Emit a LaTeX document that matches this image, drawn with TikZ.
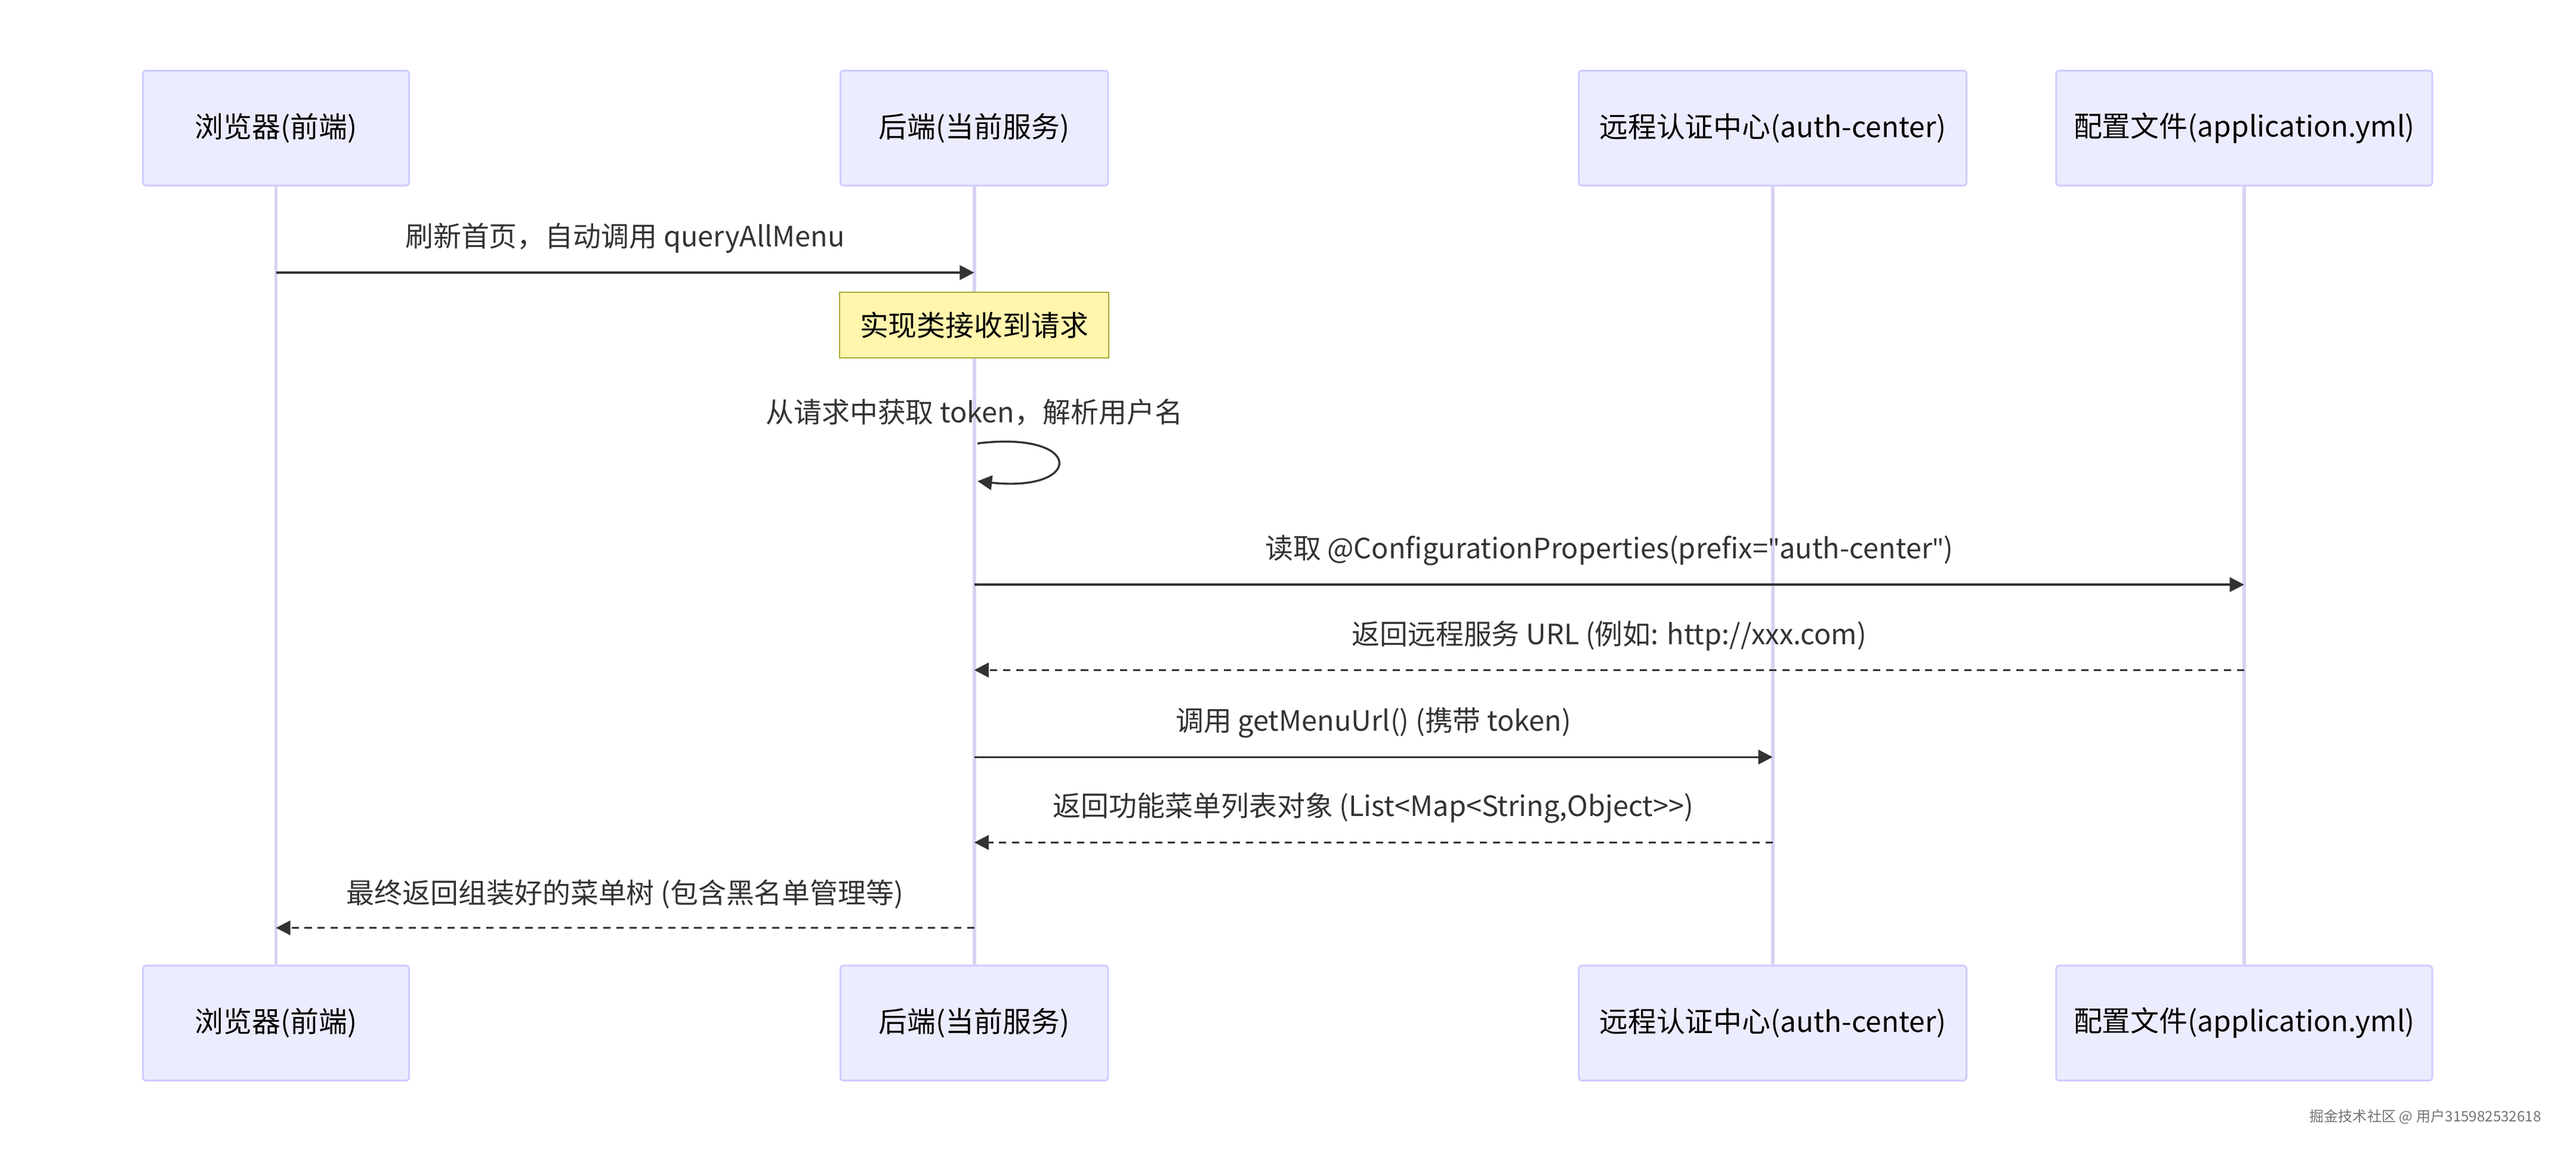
\documentclass[tikz,border=0pt]{standalone}
\usepackage{fontspec}
\setmainfont{Noto Sans CJK SC}
\newfontfamily\quotefont{Noto Sans}
\usetikzlibrary{arrows.meta,positioning}
\definecolor{actfill}{HTML}{ECECFF}
\definecolor{actline}{HTML}{CCCCFF}
\definecolor{lifeline}{HTML}{D9D2F2}
\definecolor{notefill}{HTML}{FFF5AD}
\definecolor{noteline}{HTML}{AAAA33}
\definecolor{msgline}{HTML}{333333}
\newcommand{\dq}{{\quotefont\symbol{34}}}
\tikzset{
	actor/.style={
		rectangle, rounded corners=1pt, draw=actline, fill=actfill, line width=0.6pt,
		minimum height=1.4cm, font=\fontsize{9.9}{11}\selectfont
	}
}

\begin{document}
\begin{tikzpicture}[x=0.02cm,y=-0.02cm]
		\tikzstyle{msg}=[draw=msgline, line width=0.7pt, -{Triangle[length=5pt,width=5pt]}]
		\tikzstyle{ret}=[msg, dash pattern=on 2.5pt off 2pt]
		\tikzstyle{lbl}=[font=\fontsize{9.7}{10}\selectfont, text=msgline]
		\tikzstyle{life}=[draw=lifeline, line width=1.2pt]
		\useasboundingbox (0,0) rectangle (1568,702);
		% actors, top row
		\node[actor, minimum width=3.24cm] (browser) at (168,78) {浏览器(前端)};
		\node[actor, minimum width=3.26cm] (backend) at (593,78) {后端(当前服务)};
		\node[actor, minimum width=4.72cm] (auth) at (1079,78) {远程认证中心(auth-center)};
		\node[actor, minimum width=4.58cm] (config) at (1366,78) {配置文件(application.yml)};
		% actors, bottom row
		\node[actor, minimum width=3.24cm] (browserb) at (168,623) {浏览器(前端)};
		\node[actor, minimum width=3.26cm] (backendb) at (593,623) {后端(当前服务)};
		\node[actor, minimum width=4.72cm] (authb) at (1079,623) {远程认证中心(auth-center)};
		\node[actor, minimum width=4.58cm] (configb) at (1366,623) {配置文件(application.yml)};
		
		\draw[life] (browser) -- (browserb);
		\draw[life] (backend) -- (backendb);
		\draw[life] (auth) -- (authb);
		\draw[life] (config) -- (configb);
		
		% message end points
		\coordinate (m1a) at (168,166); \coordinate (m1b) at (593,166);
		\coordinate (s1a) at (595,270); \coordinate (s1b) at (595,293);
		\coordinate (m3a) at (593,356); \coordinate (m3b) at (1366,356);
		\coordinate (m4a) at (1366,408); \coordinate (m4b) at (593,408);
		\coordinate (m5a) at (593,461); \coordinate (m5b) at (1079,461);
		\coordinate (m6a) at (1079,513); \coordinate (m6b) at (593,513);
		\coordinate (m7a) at (593,565); \coordinate (m7b) at (168,565);
		
		\draw[msg] (m1a) -- (m1b) node[lbl, midway, above=3pt] {刷新首页，自动调用 queryAllMenu};
		\node[rectangle, draw=noteline, fill=notefill, minimum width=3.28cm, minimum height=0.8cm,
			font=\fontsize{9.9}{11}\selectfont] (note) at (593,198) {实现类接收到请求};
		\node[lbl] (selflbl) at (593,251) {从请求中获取 token，解析用户名};
		\draw[msg] (s1a) .. controls (660,262) and (660,300) .. (s1b);
		\draw[msg] (m3a) -- (m3b) node[lbl, midway, above=3pt] {读取 @ConfigurationProperties(prefix=\dq auth-center\dq)};
		\draw[ret] (m4a) -- (m4b) node[lbl, midway, above=3pt] {返回远程服务 URL (例如: http://xxx.com)};
		\draw[msg] (m5a) -- (m5b) node[lbl, midway, above=3pt] {调用 getMenuUrl() (携带 token)};
		\draw[ret] (m6a) -- (m6b) node[lbl, midway, above=3pt] {返回功能菜单列表对象 (List<Map<String,Object>{}>)};
		\draw[ret] (m7a) -- (m7b) node[lbl, midway, above=3pt] {最终返回组装好的菜单树 (包含黑名单管理等)};
		
		\node[font=\fontsize{5}{6}\selectfont, text=black!55, anchor=east] (mark) at (1553,680) {掘金技术社区 @ 用户315982532618};
\end{tikzpicture}
\end{document}
